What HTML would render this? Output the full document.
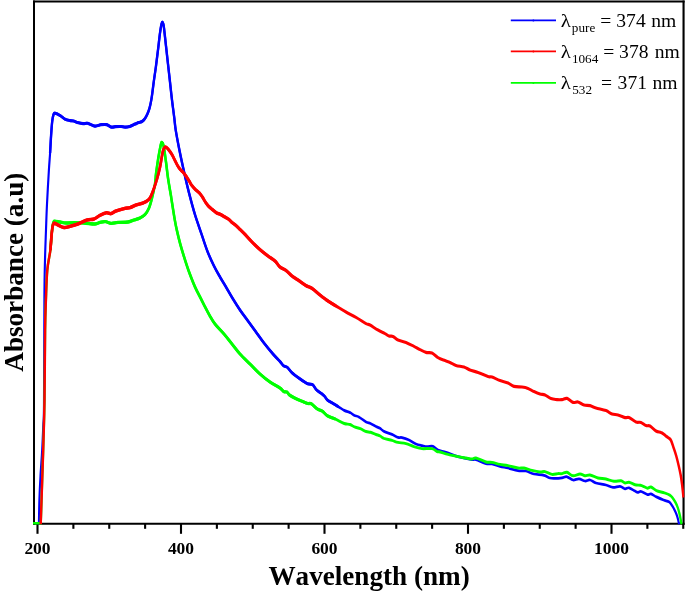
<!DOCTYPE html>
<html><head><meta charset="utf-8"><title>Absorbance spectrum</title>
<style>
html,body{margin:0;padding:0;background:#fff;}
body{width:685px;height:594px;overflow:hidden;font-family:"Liberation Serif",serif;}
svg{display:block}
text{font-kerning:none}
.tl text{font:bold 17.5px "Liberation Serif",serif;text-anchor:middle;fill:#000;font-kerning:none}
.ax{font:bold 27.15px "Liberation Serif",serif;fill:#000;text-anchor:middle;font-kerning:none}
.lg text{font:19.6px "Liberation Serif",serif;fill:#000;font-kerning:none}
</style></head><body>
<svg width="685" height="594" viewBox="0 0 685 594">
<defs><clipPath id="plot"><rect x="33" y="0" width="651.5" height="524.6"/></clipPath></defs>
<rect width="685" height="594" fill="#fff"/>
<g stroke="#000">
<line x1="34" y1="0.5" x2="34" y2="524.65" stroke-width="2"/>
<line x1="683.56" y1="0.5" x2="683.56" y2="524.65" stroke-width="2.12"/>
<line x1="33" y1="1.45" x2="684.62" y2="1.45" stroke-width="1.9"/>
<line x1="33" y1="523.7" x2="684.62" y2="523.7" stroke-width="1.9"/>
</g>
<g stroke="#000" stroke-width="2.1"><line x1="37.50" y1="524" x2="37.50" y2="533.8"/><line x1="73.38" y1="524" x2="73.38" y2="528.8"/><line x1="109.25" y1="524" x2="109.25" y2="528.8"/><line x1="145.12" y1="524" x2="145.12" y2="528.8"/><line x1="181.00" y1="524" x2="181.00" y2="533.8"/><line x1="216.88" y1="524" x2="216.88" y2="528.8"/><line x1="252.75" y1="524" x2="252.75" y2="528.8"/><line x1="288.62" y1="524" x2="288.62" y2="528.8"/><line x1="324.50" y1="524" x2="324.50" y2="533.8"/><line x1="360.38" y1="524" x2="360.38" y2="528.8"/><line x1="396.25" y1="524" x2="396.25" y2="528.8"/><line x1="432.12" y1="524" x2="432.12" y2="528.8"/><line x1="468.00" y1="524" x2="468.00" y2="533.8"/><line x1="503.88" y1="524" x2="503.88" y2="528.8"/><line x1="539.75" y1="524" x2="539.75" y2="528.8"/><line x1="575.62" y1="524" x2="575.62" y2="528.8"/><line x1="611.50" y1="524" x2="611.50" y2="533.8"/><line x1="647.38" y1="524" x2="647.38" y2="528.8"/><line x1="683.25" y1="524" x2="683.25" y2="528.8"/></g>
<g clip-path="url(#plot)"><g fill="none" stroke-linejoin="round" stroke-linecap="butt" transform="scale(0.78,1)">
<path stroke="#0000ff" stroke-width="2.75" d="M49.87,524.5C49.98,520.4 50.17,508.1 50.51,500.0C50.85,491.9 51.32,484.3 51.92,476.0C52.52,467.7 53.50,458.5 54.10,450.0C54.70,441.5 55.13,432.5 55.51,425.0C55.90,417.5 56.18,426.2 56.41,405.0C56.65,383.8 56.71,322.2 56.92,298.0C57.14,273.8 57.35,271.3 57.69,260.0C58.03,248.7 58.55,239.3 58.97,230.0C59.40,220.7 59.64,214.0 60.26,204.0C60.88,194.0 62.03,178.5 62.69,170.0C63.35,161.5 63.76,158.8 64.23,153.0C64.70,147.2 65.06,140.6 65.51,135.3C65.96,130.1 66.41,125.0 66.92,121.5C67.44,118.0 67.97,116.0 68.59,114.6C69.21,113.2 69.10,113.0 70.64,113.2C72.18,113.4 75.73,114.9 77.82,115.9C79.91,116.9 81.18,118.3 83.21,119.1C85.24,119.9 88.12,120.3 90.00,120.6C91.88,120.9 92.99,120.7 94.49,121.0C95.98,121.3 96.97,122.0 98.97,122.4C100.98,122.8 104.27,123.4 106.54,123.6C108.80,123.8 110.04,122.9 112.56,123.3C115.09,123.7 118.89,125.9 121.67,126.1C124.44,126.3 126.73,125.0 129.23,124.7C131.73,124.5 134.40,124.2 136.67,124.6C138.93,125.0 140.85,126.8 142.82,127.1C144.79,127.4 146.41,126.7 148.46,126.6C150.51,126.5 153.08,126.4 155.13,126.5C157.18,126.6 158.89,127.1 160.77,127.1C162.65,127.1 164.36,126.9 166.41,126.4C168.46,125.9 171.20,124.7 173.08,124.1C174.96,123.5 176.20,123.0 177.69,122.6C179.19,122.2 180.75,122.1 182.05,121.5C183.35,120.9 184.36,120.2 185.51,118.9C186.67,117.7 187.93,115.8 188.97,114.0C190.02,112.2 190.96,110.2 191.79,107.9C192.63,105.6 193.42,102.3 193.97,100.0C194.53,97.7 194.55,97.3 195.13,94.0C195.71,90.7 196.62,84.7 197.44,80.0C198.25,75.3 199.15,71.0 200.00,66.0C200.85,61.0 201.71,55.5 202.56,50.0C203.42,44.5 204.38,37.3 205.13,33.0C205.88,28.7 206.54,25.8 207.05,24.0C207.56,22.2 207.82,22.0 208.21,22.0C208.59,22.0 209.02,23.0 209.36,24.0C209.70,25.0 209.68,24.3 210.26,28.0C210.83,31.7 211.97,40.0 212.82,46.0C213.68,52.0 214.53,58.0 215.38,64.0C216.24,70.0 217.09,76.0 217.95,82.0C218.80,88.0 219.59,94.0 220.51,100.0C221.43,106.0 222.67,113.0 223.46,118.0C224.25,123.0 224.17,124.7 225.26,130.0C226.35,135.3 228.40,143.7 230.00,150.0C231.60,156.3 233.18,162.0 234.87,168.0C236.56,174.0 238.38,180.3 240.13,186.0C241.88,191.7 243.65,197.0 245.38,202.0C247.12,207.0 248.35,210.7 250.51,216.0C252.67,221.3 255.71,228.0 258.33,234.0C260.96,240.0 263.61,246.7 266.28,252.0C268.95,257.3 271.73,261.8 274.36,266.0C276.99,270.2 279.49,273.5 282.05,277.0C284.62,280.5 286.97,283.3 289.74,287.0C292.52,290.7 295.73,295.2 298.72,299.0C301.71,302.8 304.49,306.3 307.69,310.0C310.90,313.7 314.53,317.3 317.95,321.0C321.37,324.7 324.79,328.3 328.21,332.0C331.62,335.7 334.83,339.3 338.46,343.0C342.09,346.7 346.58,350.9 350.00,354.0C353.42,357.1 356.71,359.5 358.97,361.5C361.24,363.5 362.03,364.8 363.59,365.8C365.15,366.8 366.60,366.2 368.33,367.3C370.06,368.4 371.47,370.6 373.97,372.4C376.47,374.2 380.21,376.4 383.33,378.2C386.45,380.0 390.51,382.1 392.69,383.1C394.87,384.1 395.02,383.8 396.41,384.1C397.80,384.4 399.47,383.8 401.03,384.8C402.59,385.8 403.89,388.4 405.77,389.9C407.65,391.4 410.60,392.6 412.31,393.6C414.02,394.7 414.79,395.1 416.03,396.2C417.26,397.3 418.33,399.1 419.74,400.1C421.15,401.1 422.14,401.2 424.49,402.3C426.84,403.4 431.05,405.4 433.85,406.7C436.65,408.0 438.78,409.4 441.28,410.4C443.78,411.4 446.65,411.8 448.85,412.6C451.05,413.5 452.63,414.8 454.49,415.5C456.35,416.2 457.52,415.8 460.00,416.9C462.48,418.0 466.86,420.9 469.36,422.0C471.86,423.1 472.88,422.8 475.00,423.5C477.12,424.2 480.02,425.7 482.05,426.5C484.08,427.3 485.47,427.5 487.18,428.3C488.89,429.1 489.74,430.4 492.31,431.4C494.87,432.4 499.57,433.4 502.56,434.4C505.56,435.4 508.12,436.9 510.26,437.4C512.39,437.9 513.03,437.2 515.38,437.6C517.74,438.0 521.37,438.9 524.36,440.0C527.35,441.1 530.56,443.1 533.33,444.0C536.11,444.9 538.68,445.2 541.03,445.6C543.38,446.0 545.09,446.5 547.44,446.6C549.79,446.7 552.78,445.8 555.13,446.4C557.48,447.0 558.76,449.0 561.54,450.0C564.32,451.0 567.52,451.3 571.79,452.4C576.07,453.5 581.62,455.4 587.18,456.6C592.74,457.8 601.28,459.1 605.13,459.6C608.97,460.1 607.26,458.9 610.26,459.6C613.25,460.3 619.66,462.9 623.08,463.6C626.50,464.3 627.78,463.5 630.77,464.0C633.76,464.5 637.61,465.7 641.03,466.4C644.44,467.1 647.44,467.3 651.28,468.0C655.13,468.7 660.26,470.1 664.10,470.6C667.95,471.1 670.94,470.4 674.36,471.0C677.78,471.6 680.77,473.3 684.62,474.0C688.46,474.7 694.02,474.7 697.44,475.4C700.85,476.1 702.78,477.5 705.13,478.0C707.48,478.5 708.97,478.4 711.54,478.4C714.10,478.4 717.95,478.1 720.51,477.8C723.08,477.5 724.57,476.4 726.92,476.8C729.27,477.2 732.05,479.7 734.62,480.0C737.18,480.3 739.74,478.6 742.31,478.8C744.87,479.0 747.65,480.8 750.00,481.0C752.35,481.2 754.06,479.7 756.41,480.0C758.76,480.3 760.68,482.2 764.10,483.0C767.52,483.8 773.29,484.3 776.92,485.0C780.56,485.7 782.91,487.2 785.90,487.4C788.89,487.6 792.31,486.2 794.87,486.4C797.44,486.6 799.36,488.6 801.28,488.8C803.21,489.0 804.27,487.4 806.41,487.8C808.55,488.2 812.24,490.3 814.10,491.1C815.96,491.9 816.24,492.3 817.56,492.4C818.89,492.5 819.96,491.1 822.05,491.5C824.15,491.9 828.03,494.2 830.13,494.6C832.22,495.0 832.71,493.5 834.62,493.9C836.52,494.3 838.85,495.9 841.54,496.9C844.23,497.9 848.10,499.2 850.77,500.0C853.44,500.8 855.85,501.0 857.56,501.8C859.27,502.6 859.87,503.6 861.03,504.9C862.18,506.2 863.44,507.8 864.49,509.4C865.53,511.0 866.54,512.7 867.31,514.3C868.08,515.9 868.55,517.1 869.10,518.8C869.66,520.5 870.38,523.5 870.64,524.5"/>
<path stroke="#0000ff" stroke-width="3.1" d="M64.23,153.0C64.44,150.1 65.06,140.6 65.51,135.3C65.96,130.1 66.41,125.0 66.92,121.5C67.44,118.0 67.97,116.0 68.59,114.6C69.21,113.2 69.10,113.0 70.64,113.2C72.18,113.4 75.73,114.9 77.82,115.9C79.91,116.9 81.18,118.3 83.21,119.1C85.24,119.9 88.12,120.3 90.00,120.6C91.88,120.9 92.99,120.7 94.49,121.0C95.98,121.3 96.97,122.0 98.97,122.4C100.98,122.8 104.27,123.4 106.54,123.6C108.80,123.8 110.04,122.9 112.56,123.3C115.09,123.7 118.89,125.9 121.67,126.1C124.44,126.3 126.73,125.0 129.23,124.7C131.73,124.5 134.40,124.2 136.67,124.6C138.93,125.0 140.85,126.8 142.82,127.1C144.79,127.4 146.41,126.7 148.46,126.6C150.51,126.5 153.08,126.4 155.13,126.5C157.18,126.6 158.89,127.1 160.77,127.1C162.65,127.1 164.36,126.9 166.41,126.4C168.46,125.9 171.20,124.7 173.08,124.1C174.96,123.5 176.20,123.0 177.69,122.6C179.19,122.2 180.75,122.1 182.05,121.5C183.35,120.9 184.36,120.2 185.51,118.9C186.67,117.7 187.93,115.8 188.97,114.0C190.02,112.2 190.96,110.2 191.79,107.9C192.63,105.6 193.42,102.3 193.97,100.0C194.53,97.7 194.55,97.3 195.13,94.0C195.71,90.7 196.62,84.7 197.44,80.0C198.25,75.3 199.15,71.0 200.00,66.0C200.85,61.0 201.71,55.5 202.56,50.0C203.42,44.5 204.38,37.3 205.13,33.0C205.88,28.7 206.54,25.8 207.05,24.0C207.56,22.2 207.82,22.0 208.21,22.0C208.59,22.0 209.02,23.0 209.36,24.0C209.70,25.0 209.68,24.3 210.26,28.0C210.83,31.7 211.97,40.0 212.82,46.0C213.68,52.0 214.53,58.0 215.38,64.0C216.24,70.0 217.09,76.0 217.95,82.0C218.80,88.0 219.59,94.0 220.51,100.0C221.43,106.0 222.67,113.0 223.46,118.0C224.25,123.0 224.17,124.7 225.26,130.0C226.35,135.3 228.40,143.7 230.00,150.0C231.60,156.3 233.18,162.0 234.87,168.0C236.56,174.0 238.38,180.3 240.13,186.0C241.88,191.7 243.65,197.0 245.38,202.0C247.12,207.0 248.35,210.7 250.51,216.0C252.67,221.3 255.71,228.0 258.33,234.0C260.96,240.0 263.61,246.7 266.28,252.0C268.95,257.3 271.73,261.8 274.36,266.0C276.99,270.2 279.49,273.5 282.05,277.0C284.62,280.5 286.97,283.3 289.74,287.0C292.52,290.7 295.73,295.2 298.72,299.0C301.71,302.8 304.49,306.3 307.69,310.0C310.90,313.7 314.53,317.3 317.95,321.0C321.37,324.7 324.79,328.3 328.21,332.0C331.62,335.7 334.83,339.3 338.46,343.0C342.09,346.7 346.58,350.9 350.00,354.0C353.42,357.1 356.71,359.5 358.97,361.5C361.24,363.5 362.03,364.8 363.59,365.8C365.15,366.8 366.60,366.2 368.33,367.3C370.06,368.4 371.47,370.6 373.97,372.4C376.47,374.2 380.21,376.4 383.33,378.2C386.45,380.0 390.51,382.1 392.69,383.1C394.87,384.1 395.02,383.8 396.41,384.1C397.80,384.4 399.47,383.8 401.03,384.8C402.59,385.8 403.89,388.4 405.77,389.9C407.65,391.4 410.60,392.6 412.31,393.6C414.02,394.7 414.79,395.1 416.03,396.2C417.26,397.3 418.33,399.1 419.74,400.1C421.15,401.1 422.14,401.2 424.49,402.3C426.84,403.4 432.29,406.0 433.85,406.7"/>
<path stroke="#00ff00" stroke-width="2.95" d="M42.31,523.4C43.76,523.4 49.36,523.6 51.03,523.4C52.69,523.2 51.79,529.2 52.31,522.0C52.82,514.8 53.53,493.7 54.10,480.0C54.68,466.3 55.28,453.3 55.77,440.0C56.26,426.7 56.71,418.3 57.05,400.0C57.39,381.7 57.52,346.7 57.82,330.0C58.12,313.3 58.38,310.0 58.85,300.0C59.32,290.0 59.68,278.3 60.64,270.0C61.60,261.7 63.72,255.7 64.62,250.0C65.51,244.3 65.56,240.0 66.03,236.0C66.50,232.0 66.99,228.3 67.44,226.0C67.88,223.7 68.27,222.8 68.72,222.0C69.17,221.2 68.76,221.2 70.13,221.2C71.50,221.2 74.51,221.7 76.92,222.0C79.34,222.3 81.62,222.9 84.62,223.0C87.61,223.1 91.03,222.6 94.87,222.6C98.72,222.6 103.21,222.8 107.69,223.0C112.18,223.2 118.38,224.1 121.79,224.0C125.21,223.9 125.94,222.8 128.21,222.4C130.47,222.0 133.03,221.4 135.38,221.6C137.74,221.8 139.66,223.3 142.31,223.4C144.96,223.5 147.65,222.6 151.28,222.4C154.91,222.2 160.68,222.4 164.10,222.0C167.52,221.6 169.23,220.7 171.79,220.0C174.36,219.3 177.14,218.9 179.49,218.0C181.84,217.1 183.97,216.3 185.90,214.6C187.82,212.9 189.53,210.8 191.03,208.0C192.52,205.2 193.59,202.0 194.87,198.0C196.15,194.0 197.86,188.0 198.72,184.0C199.57,180.0 199.36,178.0 200.00,174.0C200.64,170.0 201.92,163.3 202.56,160.0C203.21,156.7 203.21,156.7 203.85,154.0C204.49,151.3 205.77,145.9 206.41,144.0C207.05,142.1 207.14,142.2 207.69,142.5C208.25,142.8 208.89,142.8 209.74,146.0C210.60,149.2 211.88,156.7 212.82,162.0C213.76,167.3 214.32,172.3 215.38,178.0C216.45,183.7 218.46,192.3 219.23,196.0C220.00,199.7 219.19,196.0 220.00,200.0C220.81,204.0 222.99,215.0 224.10,220.0C225.21,225.0 225.47,225.9 226.67,230.0C227.86,234.1 229.57,239.7 231.28,244.6C232.99,249.5 235.04,254.6 236.92,259.2C238.80,263.8 240.38,267.7 242.56,272.3C244.74,276.9 247.50,282.5 250.00,286.9C252.50,291.3 255.36,295.2 257.56,298.6C259.76,302.0 261.35,304.6 263.21,307.4C265.06,310.2 266.65,312.6 268.72,315.4C270.79,318.2 272.56,320.9 275.64,324.0C278.72,327.1 283.55,330.7 287.18,334.0C290.81,337.3 294.02,340.7 297.44,344.0C300.85,347.3 303.85,350.7 307.69,354.0C311.54,357.3 316.24,360.7 320.51,364.0C324.79,367.3 329.06,371.0 333.33,374.0C337.61,377.0 341.88,379.7 346.15,382.0C350.43,384.3 356.07,386.4 358.97,388.0C361.88,389.6 362.09,390.7 363.59,391.4C365.09,392.1 366.69,391.5 367.95,392.1C369.21,392.7 369.53,394.0 371.15,395.0C372.78,396.0 375.04,397.0 377.69,398.0C380.34,399.0 384.25,400.3 387.05,401.2C389.85,402.1 392.46,403.1 394.49,403.5C396.52,403.9 397.20,402.9 399.23,403.8C401.26,404.7 404.34,407.7 406.67,408.9C409.00,410.1 411.03,410.0 413.21,411.1C415.38,412.2 416.92,414.5 419.74,415.8C422.56,417.1 426.54,417.8 430.13,419.1C433.72,420.4 438.16,422.6 441.28,423.5C444.40,424.4 446.65,423.9 448.85,424.5C451.05,425.1 452.31,426.2 454.49,426.9C456.67,427.6 459.44,427.8 461.92,428.6C464.40,429.4 467.18,430.9 469.36,431.5C471.54,432.1 472.88,431.8 475.00,432.3C477.12,432.8 480.02,433.9 482.05,434.5C484.08,435.1 485.47,435.2 487.18,435.9C488.89,436.5 489.74,437.6 492.31,438.4C494.87,439.1 499.57,439.7 502.56,440.4C505.56,441.1 507.26,441.9 510.26,442.4C513.25,442.9 517.09,442.9 520.51,443.6C523.93,444.3 527.35,445.8 530.77,446.6C534.19,447.4 537.18,448.3 541.03,448.6C544.87,448.9 550.64,448.1 553.85,448.6C557.05,449.1 558.55,451.0 560.26,451.6C561.97,452.2 561.75,451.5 564.10,452.0C566.45,452.5 570.51,453.6 574.36,454.4C578.21,455.2 583.33,456.0 587.18,456.6C591.03,457.2 594.44,457.6 597.44,458.0C600.43,458.4 602.99,459.0 605.13,459.0C607.26,459.0 607.26,457.5 610.26,458.0C613.25,458.5 619.66,461.3 623.08,462.0C626.50,462.7 627.78,462.0 630.77,462.4C633.76,462.8 637.61,463.9 641.03,464.4C644.44,464.9 647.44,465.0 651.28,465.6C655.13,466.2 660.68,467.6 664.10,468.0C667.52,468.4 668.80,467.6 671.79,468.0C674.79,468.4 678.63,469.7 682.05,470.4C685.47,471.1 689.53,471.8 692.31,472.0C695.09,472.2 696.15,471.2 698.72,471.6C701.28,472.0 704.91,474.1 707.69,474.4C710.47,474.7 713.25,473.7 715.38,473.6C717.52,473.5 718.59,473.8 720.51,473.6C722.44,473.4 724.57,471.9 726.92,472.3C729.27,472.7 731.84,475.5 734.62,475.8C737.39,476.1 741.03,474.0 743.59,474.0C746.15,474.0 747.86,475.6 750.00,475.8C752.14,476.0 753.63,474.6 756.41,475.0C759.19,475.4 763.25,477.3 766.67,478.0C770.09,478.7 773.50,478.4 776.92,479.0C780.34,479.6 783.97,481.0 787.18,481.3C790.38,481.6 793.80,480.5 796.15,480.8C798.50,481.1 799.57,482.8 801.28,483.0C802.99,483.2 804.27,481.9 806.41,482.2C808.55,482.5 811.67,484.3 814.10,484.8C816.54,485.3 819.10,485.0 821.03,485.3C822.95,485.6 824.12,486.1 825.64,486.6C827.16,487.1 828.63,488.1 830.13,488.2C831.62,488.3 832.71,486.6 834.62,487.0C836.52,487.4 838.65,489.6 841.54,490.6C844.42,491.6 849.06,492.1 851.92,492.9C854.79,493.6 857.01,494.3 858.72,495.1C860.43,495.9 860.94,496.5 862.18,497.8C863.42,499.1 865.00,501.0 866.15,502.7C867.31,504.4 868.25,506.1 869.10,508.0C869.96,509.9 870.68,512.4 871.28,514.3C871.88,516.2 872.29,517.9 872.69,519.6C873.10,521.3 873.55,523.7 873.72,524.5"/>
<path stroke="#00ff00" stroke-width="3.3" d="M64.62,250.0C64.85,247.7 65.56,240.0 66.03,236.0C66.50,232.0 66.99,228.3 67.44,226.0C67.88,223.7 68.27,222.8 68.72,222.0C69.17,221.2 68.76,221.2 70.13,221.2C71.50,221.2 74.51,221.7 76.92,222.0C79.34,222.3 81.62,222.9 84.62,223.0C87.61,223.1 91.03,222.6 94.87,222.6C98.72,222.6 103.21,222.8 107.69,223.0C112.18,223.2 118.38,224.1 121.79,224.0C125.21,223.9 125.94,222.8 128.21,222.4C130.47,222.0 133.03,221.4 135.38,221.6C137.74,221.8 139.66,223.3 142.31,223.4C144.96,223.5 147.65,222.6 151.28,222.4C154.91,222.2 160.68,222.4 164.10,222.0C167.52,221.6 169.23,220.7 171.79,220.0C174.36,219.3 177.14,218.9 179.49,218.0C181.84,217.1 183.97,216.3 185.90,214.6C187.82,212.9 189.53,210.8 191.03,208.0C192.52,205.2 193.59,202.0 194.87,198.0C196.15,194.0 197.86,188.0 198.72,184.0C199.57,180.0 199.36,178.0 200.00,174.0C200.64,170.0 201.92,163.3 202.56,160.0C203.21,156.7 203.21,156.7 203.85,154.0C204.49,151.3 205.77,145.9 206.41,144.0C207.05,142.1 207.14,142.2 207.69,142.5C208.25,142.8 208.89,142.8 209.74,146.0C210.60,149.2 211.88,156.7 212.82,162.0C213.76,167.3 214.32,172.3 215.38,178.0C216.45,183.7 218.46,192.3 219.23,196.0C220.00,199.7 219.19,196.0 220.00,200.0C220.81,204.0 222.99,215.0 224.10,220.0C225.21,225.0 225.47,225.9 226.67,230.0C227.86,234.1 229.57,239.7 231.28,244.6C232.99,249.5 235.04,254.6 236.92,259.2C238.80,263.8 240.38,267.7 242.56,272.3C244.74,276.9 247.50,282.5 250.00,286.9C252.50,291.3 255.36,295.2 257.56,298.6C259.76,302.0 261.35,304.6 263.21,307.4C265.06,310.2 266.65,312.6 268.72,315.4C270.79,318.2 272.56,320.9 275.64,324.0C278.72,327.1 283.55,330.7 287.18,334.0C290.81,337.3 294.02,340.7 297.44,344.0C300.85,347.3 303.85,350.7 307.69,354.0C311.54,357.3 316.24,360.7 320.51,364.0C324.79,367.3 329.06,371.0 333.33,374.0C337.61,377.0 341.88,379.7 346.15,382.0C350.43,384.3 356.07,386.4 358.97,388.0C361.88,389.6 362.09,390.7 363.59,391.4C365.09,392.1 366.69,391.5 367.95,392.1C369.21,392.7 369.53,394.0 371.15,395.0C372.78,396.0 375.04,397.0 377.69,398.0C380.34,399.0 384.25,400.3 387.05,401.2C389.85,402.1 392.46,403.1 394.49,403.5C396.52,403.9 397.20,402.9 399.23,403.8C401.26,404.7 404.34,407.7 406.67,408.9C409.00,410.1 411.03,410.0 413.21,411.1C415.38,412.2 416.92,414.5 419.74,415.8C422.56,417.1 428.40,418.6 430.13,419.1"/>
<path stroke="#ff0000" stroke-width="3.15" d="M52.18,524.5C52.50,517.1 53.50,494.1 54.10,480.0C54.70,465.9 55.28,453.3 55.77,440.0C56.26,426.7 56.71,418.3 57.05,400.0C57.39,381.7 57.52,346.7 57.82,330.0C58.12,313.3 58.38,310.0 58.85,300.0C59.32,290.0 59.68,278.3 60.64,270.0C61.60,261.7 63.72,255.7 64.62,250.0C65.51,244.3 65.58,239.8 66.03,236.0C66.47,232.2 66.86,229.1 67.31,227.0C67.76,224.9 68.27,224.2 68.72,223.6C69.17,223.0 69.06,223.0 70.00,223.2C70.94,223.4 72.35,224.3 74.36,225.0C76.37,225.7 79.49,227.4 82.05,227.6C84.62,227.8 86.75,227.0 89.74,226.4C92.74,225.8 96.37,225.1 100.00,224.0C103.63,222.9 108.12,220.8 111.54,220.0C114.96,219.2 117.74,219.8 120.51,219.0C123.29,218.2 125.53,216.3 128.21,215.3C130.88,214.3 134.19,213.1 136.54,212.8C138.89,212.5 140.28,213.9 142.31,213.6C144.34,213.3 145.94,211.8 148.72,211.0C151.50,210.2 155.98,209.2 158.97,208.6C161.97,208.0 164.10,208.2 166.67,207.6C169.23,207.0 171.58,205.8 174.36,205.0C177.14,204.2 180.56,203.9 183.33,203.0C186.11,202.1 188.89,201.3 191.03,199.3C193.16,197.3 194.44,194.4 196.15,191.0C197.86,187.6 199.79,183.0 201.28,179.0C202.78,175.0 203.85,171.7 205.13,167.0C206.41,162.3 207.78,154.3 208.97,151.0C210.17,147.7 211.07,147.2 212.31,147.0C213.55,146.8 215.02,148.7 216.41,150.0C217.80,151.3 219.32,152.9 220.64,154.7C221.97,156.5 223.23,158.8 224.36,160.6C225.49,162.4 226.43,163.9 227.44,165.3C228.44,166.7 229.27,167.7 230.38,168.8C231.50,169.9 232.97,170.8 234.10,171.8C235.24,172.8 236.15,173.6 237.18,174.7C238.21,175.8 239.25,177.0 240.26,178.2C241.26,179.4 242.33,180.7 243.21,181.8C244.08,182.9 244.34,183.8 245.51,185.0C246.69,186.2 248.59,188.0 250.26,189.3C251.92,190.6 253.97,191.6 255.51,192.9C257.05,194.2 258.18,195.5 259.49,197.0C260.79,198.5 262.03,200.6 263.33,202.1C264.64,203.6 265.77,204.9 267.31,206.2C268.85,207.5 270.81,208.6 272.56,209.7C274.32,210.8 276.20,212.2 277.82,213.0C279.44,213.8 280.58,213.7 282.31,214.3C284.04,215.0 286.35,216.1 288.21,216.9C290.06,217.8 291.92,218.5 293.46,219.4C295.00,220.3 295.90,221.5 297.44,222.5C298.97,223.5 300.94,224.4 302.69,225.6C304.44,226.8 306.09,228.2 307.95,229.6C309.81,231.0 311.32,232.1 313.85,234.2C316.37,236.3 319.83,239.4 323.08,242.0C326.32,244.6 329.91,247.3 333.33,249.6C336.75,251.9 340.38,254.1 343.59,256.0C346.79,257.9 350.00,259.2 352.56,261.0C355.13,262.8 356.62,265.4 358.97,267.0C361.32,268.6 364.10,268.9 366.67,270.4C369.23,271.9 371.79,274.4 374.36,276.0C376.92,277.6 379.06,278.4 382.05,280.0C385.04,281.6 389.32,284.2 392.31,285.6C395.30,287.0 397.01,286.8 400.00,288.4C402.99,290.0 406.84,292.9 410.26,295.0C413.68,297.1 417.09,299.2 420.51,301.0C423.93,302.8 426.92,304.2 430.77,306.0C434.62,307.8 439.32,310.1 443.59,312.0C447.86,313.9 452.14,315.5 456.41,317.4C460.68,319.3 466.24,322.3 469.23,323.6C472.22,324.9 471.79,323.9 474.36,325.0C476.92,326.1 481.41,328.6 484.62,330.0C487.82,331.4 491.24,332.6 493.59,333.6C495.94,334.6 497.01,335.5 498.72,336.0C500.43,336.5 501.92,335.7 503.85,336.4C505.77,337.1 507.48,339.0 510.26,340.0C513.03,341.0 517.09,341.3 520.51,342.4C523.93,343.5 527.78,345.2 530.77,346.4C533.76,347.6 535.90,348.6 538.46,349.6C541.03,350.6 543.59,351.8 546.15,352.4C548.72,353.0 551.28,352.1 553.85,353.0C556.41,353.9 558.76,356.3 561.54,357.6C564.32,358.9 567.95,359.8 570.51,360.6C573.08,361.4 574.57,361.6 576.92,362.4C579.27,363.2 581.62,364.6 584.62,365.4C587.61,366.2 591.88,366.2 594.87,367.0C597.86,367.8 599.57,369.1 602.56,370.0C605.56,370.9 608.97,371.3 612.82,372.4C616.67,373.5 622.65,375.8 625.64,376.6C628.63,377.4 628.21,376.3 630.77,377.0C633.33,377.7 637.61,379.6 641.03,380.6C644.44,381.6 648.29,382.0 651.28,383.0C654.27,384.0 655.98,385.7 658.97,386.4C661.97,387.1 666.24,386.7 669.23,387.0C672.22,387.3 674.36,387.6 676.92,388.4C679.49,389.2 682.05,390.7 684.62,391.6C687.18,392.5 689.96,393.4 692.31,394.0C694.66,394.6 696.37,394.2 698.72,395.0C701.07,395.8 703.85,397.8 706.41,398.6C708.97,399.4 711.75,399.4 714.10,399.6C716.45,399.8 718.38,399.8 720.51,399.6C722.65,399.4 724.57,397.9 726.92,398.4C729.27,398.9 732.26,401.8 734.62,402.4C736.97,403.0 738.68,401.6 741.03,402.0C743.38,402.4 746.15,404.4 748.72,405.0C751.28,405.6 753.85,405.1 756.41,405.6C758.97,406.1 760.68,407.2 764.10,408.0C767.52,408.8 773.50,409.6 776.92,410.6C780.34,411.6 782.05,413.3 784.62,414.0C787.18,414.7 789.53,414.4 792.31,415.0C795.09,415.6 798.93,417.2 801.28,417.6C803.63,418.0 804.06,416.9 806.41,417.6C808.76,418.3 812.82,421.2 815.38,422.0C817.95,422.8 819.66,421.8 821.79,422.4C823.93,423.0 826.28,425.0 828.21,425.6C830.13,426.2 831.20,425.1 833.33,426.0C835.47,426.9 838.68,429.9 841.03,431.0C843.38,432.1 845.73,431.8 847.44,432.4C849.15,432.9 850.04,433.6 851.28,434.3C852.52,435.0 853.74,436.0 854.87,436.7C856.00,437.4 857.16,437.8 858.08,438.4C859.00,439.0 859.53,439.2 860.38,440.6C861.24,442.0 862.12,444.4 863.21,446.9C864.29,449.4 865.83,452.8 866.92,455.7C868.01,458.6 868.80,461.3 869.74,464.5C870.68,467.7 871.79,471.4 872.56,474.7C873.33,477.9 873.74,480.2 874.36,484.0C874.98,487.8 875.96,495.2 876.28,497.5"/>
<path stroke="#ff0000" stroke-width="3.5" d="M64.62,250.0C64.85,247.7 65.58,239.8 66.03,236.0C66.47,232.2 66.86,229.1 67.31,227.0C67.76,224.9 68.27,224.2 68.72,223.6C69.17,223.0 69.06,223.0 70.00,223.2C70.94,223.4 72.35,224.3 74.36,225.0C76.37,225.7 79.49,227.4 82.05,227.6C84.62,227.8 86.75,227.0 89.74,226.4C92.74,225.8 96.37,225.1 100.00,224.0C103.63,222.9 108.12,220.8 111.54,220.0C114.96,219.2 117.74,219.8 120.51,219.0C123.29,218.2 125.53,216.3 128.21,215.3C130.88,214.3 134.19,213.1 136.54,212.8C138.89,212.5 140.28,213.9 142.31,213.6C144.34,213.3 145.94,211.8 148.72,211.0C151.50,210.2 155.98,209.2 158.97,208.6C161.97,208.0 164.10,208.2 166.67,207.6C169.23,207.0 171.58,205.8 174.36,205.0C177.14,204.2 180.56,203.9 183.33,203.0C186.11,202.1 188.89,201.3 191.03,199.3C193.16,197.3 194.44,194.4 196.15,191.0C197.86,187.6 199.79,183.0 201.28,179.0C202.78,175.0 203.85,171.7 205.13,167.0C206.41,162.3 207.78,154.3 208.97,151.0C210.17,147.7 211.07,147.2 212.31,147.0C213.55,146.8 215.02,148.7 216.41,150.0C217.80,151.3 219.32,152.9 220.64,154.7C221.97,156.5 223.23,158.8 224.36,160.6C225.49,162.4 226.43,163.9 227.44,165.3C228.44,166.7 229.27,167.7 230.38,168.8C231.50,169.9 232.97,170.8 234.10,171.8C235.24,172.8 236.15,173.6 237.18,174.7C238.21,175.8 239.25,177.0 240.26,178.2C241.26,179.4 242.33,180.7 243.21,181.8C244.08,182.9 244.34,183.8 245.51,185.0C246.69,186.2 248.59,188.0 250.26,189.3C251.92,190.6 253.97,191.6 255.51,192.9C257.05,194.2 258.18,195.5 259.49,197.0C260.79,198.5 262.03,200.6 263.33,202.1C264.64,203.6 265.77,204.9 267.31,206.2C268.85,207.5 270.81,208.6 272.56,209.7C274.32,210.8 276.20,212.2 277.82,213.0C279.44,213.8 280.58,213.7 282.31,214.3C284.04,215.0 286.35,216.1 288.21,216.9C290.06,217.8 291.92,218.5 293.46,219.4C295.00,220.3 295.90,221.5 297.44,222.5C298.97,223.5 300.94,224.4 302.69,225.6C304.44,226.8 306.09,228.2 307.95,229.6C309.81,231.0 311.32,232.1 313.85,234.2C316.37,236.3 319.83,239.4 323.08,242.0C326.32,244.6 329.91,247.3 333.33,249.6C336.75,251.9 340.38,254.1 343.59,256.0C346.79,257.9 350.00,259.2 352.56,261.0C355.13,262.8 356.62,265.4 358.97,267.0C361.32,268.6 364.10,268.9 366.67,270.4C369.23,271.9 371.79,274.4 374.36,276.0C376.92,277.6 379.06,278.4 382.05,280.0C385.04,281.6 389.32,284.2 392.31,285.6C395.30,287.0 397.01,286.8 400.00,288.4C402.99,290.0 406.84,292.9 410.26,295.0C413.68,297.1 417.09,299.2 420.51,301.0C423.93,302.8 429.06,305.2 430.77,306.0"/>
</g></g>
<g class="tl"><text transform="translate(37.50,554.3) scale(1,1.01)">200</text><text transform="translate(181.00,554.3) scale(1,1.01)">400</text><text transform="translate(324.50,554.3) scale(1,1.01)">600</text><text transform="translate(468.00,554.3) scale(1,1.01)">800</text><text transform="translate(611.50,554.3) scale(1,1.01)">1000</text></g>
<text class="ax" x="369.1" y="584.6">Wavelength (nm)</text>
<text class="ax" style="font-size:27.15px" transform="translate(23.1,272.2) rotate(-90)">Absorbance (a.u)</text>
<g stroke-width="1.8">
<line x1="510.8" y1="20.45" x2="556" y2="20.45" stroke="#0000ff"/>
<line x1="510.8" y1="51.45" x2="556" y2="51.45" stroke="#ff0000"/>
<line x1="510.8" y1="82.95" x2="556" y2="82.95" stroke="#00ff00"/>
</g>
<circle cx="533.4" cy="20.45" r="1" fill="#0000ff"/><circle cx="533.4" cy="51.45" r="1" fill="#ff0000"/><circle cx="533.4" cy="82.95" r="1" fill="#00ff00"/>
<g class="lg">
<text transform="translate(560.8,26.8) scale(1.06,1)">λ</text><text y="26.8"><tspan x="571.8" dy="5" font-size="13.2">pure</tspan><tspan x="600.3" dy="-5">=</tspan><tspan x="616.3">374</tspan><tspan x="651.2">nm</tspan></text>
<text transform="translate(560.8,57.8) scale(1.06,1)">λ</text><text y="57.8"><tspan x="571.9" dy="5" font-size="13.2">1064</tspan><tspan x="603.2" dy="-5">=</tspan><tspan x="619.1">378</tspan><tspan x="654.8">nm</tspan></text>
<text transform="translate(560.8,88.8) scale(1.06,1)">λ</text><text y="88.8"><tspan x="572.2" dy="5" font-size="13.2">532</tspan><tspan x="600.9" dy="-5">=</tspan><tspan x="617.6">371</tspan><tspan x="652.5">nm</tspan></text>
</g>
</svg>
</body></html>
